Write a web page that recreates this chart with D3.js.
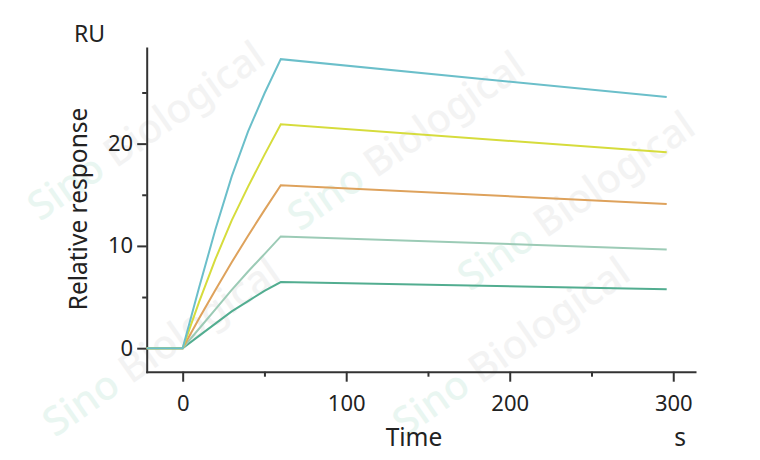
<!DOCTYPE html>
<html>
<head>
<meta charset="utf-8">
<script src="https://cdn.jsdelivr.net/npm/d3@7"></script>
<style>
  body { margin: 0; background: #fff; }
  svg { display: block; font-family: "Noto Sans", sans-serif; }
</style>
</head>
<body>
<svg width="760" height="460"></svg>
<script>
// time points (s) and response values (RU) for each concentration curve
const times = [-22, 0, 10, 20, 30, 40, 50, 60, 296];

const curveCyan   = [0, 0, 5.9, 11.6, 16.8, 21.2, 24.9, 28.26, 24.55];
const curveYellow = [0, 0, 4.5, 8.7, 12.5, 15.8, 18.9, 21.9, 19.15];
const curveOrange = [0, 0, 2.9, 5.7, 8.4, 11.0, 13.5, 15.93, 14.1];
const curveLight  = [0, 0, 1.9, 3.8, 5.7, 7.5, 9.2, 10.93, 9.66];
const curveGreen  = [0, 0, 1.2, 2.4, 3.6, 4.6, 5.6, 6.47, 5.76];

const seriesColors = ["#6bbfca", "#d6dc3c", "#dea25c", "#9ccbb6", "#52ad90"];

const xMajorTicks = [0, 100, 200, 300];
const xMinorTicks = [50, 150, 250];
const yMajorTicks = [0, 10, 20];
const yMinorTicks = [5, 15, 25];

const svg = d3.select("svg");

// faint watermark behind the chart
const marks = [[40, 222], [300, 232], [470, 292], [55, 438], [405, 438]];
const wm = svg.append("g").attr("class", "watermark");
marks.forEach(m => {
    let t = wm.append("text")
        .attr("transform", `translate(${m[0]},${m[1]}) rotate(-35)`)
        .attr("font-size", 40)
        .attr("font-weight", 500);
    t.append("tspan").attr("fill", "#e9f6f1").text("Sino ");
    t.append("tspan").attr("fill", "#f3f3f3").text("Biological");
});

const x = d3.scaleLinear().domain([-22, 313.3]).range([146.7, 695]);
const y = d3.scaleLinear().domain([-2.3, 29.35]).range([371.7, 48]);

// axes
const axisColor = "#333";

const gx = svg.append("g").attr("transform", `translate(0,${y.range()[0]})`);
gx.call(d3.axisBottom(x).tickValues(xMajorTicks).tickSize(10).tickPadding(14).tickSizeOuter(0));
const gxMinor = svg.append("g").attr("transform", `translate(0,${y.range()[0]})`);
gxMinor.call(d3.axisBottom(x).tickValues(xMinorTicks).tickSize(5).tickFormat("").tickSizeOuter(0));
gxMinor.select(".domain").remove();

const gy = svg.append("g").attr("transform", `translate(${x.range()[0]},0)`);
gy.call(d3.axisLeft(y).tickValues(yMajorTicks).tickSize(9.5).tickPadding(4).tickSizeOuter(0));
const gyMinor = svg.append("g").attr("transform", `translate(${x.range()[0]},0)`);
gyMinor.call(d3.axisLeft(y).tickValues(yMinorTicks).tickSize(4.5).tickFormat("").tickSizeOuter(0));
gyMinor.select(".domain").remove();

svg.selectAll(".domain, .tick line")
    .attr("stroke", axisColor)
    .attr("stroke-width", 2);
svg.selectAll(".domain").attr("stroke-linecap", "square");
svg.selectAll(".tick text")
    .attr("font-family", "Noto Sans, sans-serif")
    .attr("font-size", 22)
    .attr("fill", "#222");

// curves
const allCurves = [curveCyan, curveYellow, curveOrange, curveLight, curveGreen];
const line = d3.line()
    .x(d => x(d[0]))
    .y(d => y(d[1]));

// draw bottom curve first so lighter ones stay visible at the origin
allCurves.slice().reverse().forEach((vals, i) => {
    let idx = allCurves.length - 1 - i;
    let pts = times.map((t, k) => [t, vals[k]]);
    svg.append("path")
        .datum(pts)
        .attr("d", line)
        .attr("fill", "none")
        .attr("stroke", seriesColors[idx])
        .attr("stroke-width", 2)
        .attr("stroke-linejoin", "miter");
});

// labels
svg.append("text")
    .attr("x", 74).attr("y", 42)
    .attr("font-size", 23).attr("fill", "#222")
    .text("RU");

svg.append("text")
    .attr("transform", "translate(87,209) rotate(-90)")
    .attr("text-anchor", "middle")
    .attr("font-size", 24.5).attr("fill", "#222")
    .text("Relative response");

svg.append("text")
    .attr("x", 414).attr("y", 446)
    .attr("text-anchor", "middle")
    .attr("font-size", 24.5).attr("fill", "#222")
    .text("Time");

svg.append("text")
    .attr("x", 680).attr("y", 446)
    .attr("text-anchor", "middle")
    .attr("font-size", 24.5).attr("fill", "#222")
    .text("s");
</script>
</body>
</html>
